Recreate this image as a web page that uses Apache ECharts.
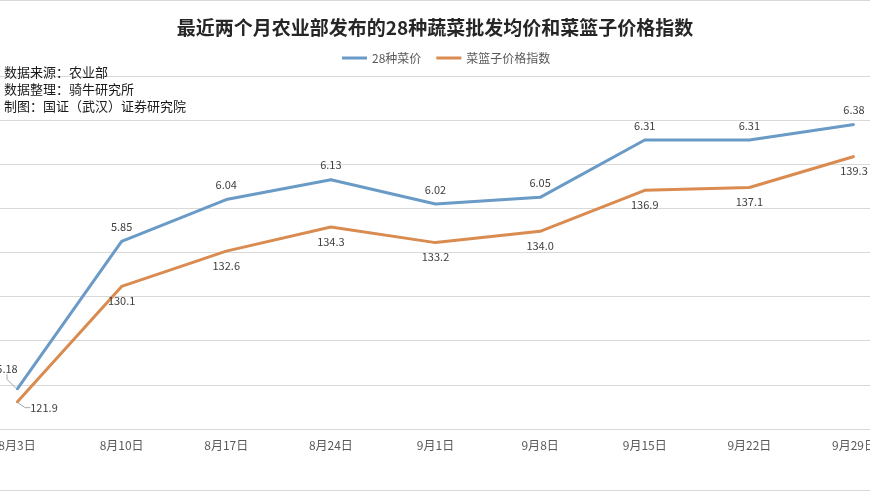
<!DOCTYPE html>
<html>
<head>
<meta charset="utf-8">
<script src="https://cdn.jsdelivr.net/npm/echarts@6/dist/echarts.min.js"></script>
<style>
html,body{margin:0;padding:0;background:#fff;}
#main{width:870px;height:492px;}
</style>
</head>
<body>
<div id="main"></div>
<script>
var categories = ['8月3日','8月10日','8月17日','8月24日','9月1日','9月8日','9月15日','9月22日','9月29日'];
var vegPrice = [5.18, 5.85, 6.04, 6.13, 6.02, 6.05, 6.31, 6.31, 6.38];
var basketIndex = [121.9, 130.1, 132.6, 134.3, 133.2, 134.0, 136.9, 137.1, 139.3];
var seriesNames = ['28种菜价', '菜篮子价格指数'];
var titleText = '最近两个月农业部发布的28种蔬菜批发均价和菜篮子价格指数';
var sourceLines = ['数据来源：农业部', '数据整理：骑牛研究所', '制图：国证（武汉）证券研究院'];

var chart = echarts.init(document.getElementById('main'), null, {renderer:'canvas'});
var FONT = '"Noto Sans CJK SC", "Noto Sans", sans-serif';
var blue = '#6A9AC6', orange = '#D98B50';
var guide = {show: true, length2: 5, lineStyle: {color: '#a6a6a6', width: 1}};

function mkData(arr) {
  return arr.map(function (v, i) {
    if (i === 0) return {value: v, labelLine: guide};
    return v;
  });
}

var option = {
  backgroundColor: '#fff',
  animation: false,
  title: {
    text: titleText,
    left: 'center',
    top: 13,
    textStyle: {fontFamily: FONT, fontSize: 19, fontWeight: 'bold', color: '#262626'}
  },
  legend: {
    top: 47,
    left: 337,
    itemWidth: 25,
    itemHeight: 3,
    itemGap: 15,
    icon: 'rect',
    textStyle: {fontFamily: FONT, fontSize: 12, color: '#595959'},
    data: seriesNames
  },
  graphic: [
    {type: 'line', shape: {x1: 0, y1: 0.5, x2: 870, y2: 0.5}, style: {stroke: '#d9d9d9', lineWidth: 1}},
    {type: 'line', shape: {x1: 0, y1: 490.5, x2: 870, y2: 490.5}, style: {stroke: '#d9d9d9', lineWidth: 1}},
    {type: 'text', left: 4, top: 64, z: 10, style: {text: sourceLines.join('\n'), fill: '#1a1a1a', font: '13px ' + FONT, lineHeight: 17}}
  ],
  grid: [
    {left: 17, right: 16, top: 76, bottom: 63, containLabel: false, outerBoundsMode: 'none'},
    {left: 0, right: 0, top: 76, bottom: 63, containLabel: false, outerBoundsMode: 'none'}
  ],
  xAxis: [
    {
      type: 'category',
      gridIndex: 0,
      data: categories,
      boundaryGap: false,
      axisLine: {show: false},
      axisTick: {show: false},
      axisLabel: {fontFamily: FONT, fontSize: 12, color: '#595959', margin: 10},
      splitLine: {show: false}
    },
    {
      type: 'value',
      gridIndex: 1,
      min: 0, max: 1,
      axisLine: {show: true, lineStyle: {color: '#d9d9d9'}},
      axisTick: {show: false}, axisLabel: {show: false}, splitLine: {show: false}
    }
  ],
  yAxis: [
    {
      type: 'value', gridIndex: 0, min: 5.0, max: 6.6, interval: 0.2,
      axisLine: {show: false}, axisTick: {show: false}, axisLabel: {show: false},
      splitLine: {show: false}
    },
    {
      type: 'value', gridIndex: 0, min: 120, max: 145, interval: 5,
      axisLine: {show: false}, axisTick: {show: false}, axisLabel: {show: false},
      splitLine: {show: false}
    },
    {
      type: 'value', gridIndex: 1, min: 5.0, max: 6.6, interval: 0.2,
      axisLine: {show: false}, axisTick: {show: false}, axisLabel: {show: false},
      splitLine: {show: true, lineStyle: {color: '#d9d9d9'}}
    }
  ],
  series: [
    {
      name: seriesNames[0],
      type: 'line',
      xAxisIndex: 0,
      yAxisIndex: 0,
      data: mkData(vegPrice),
      symbol: 'circle', symbolSize: 2, showSymbol: true,
      itemStyle: {color: blue},
      lineStyle: {color: blue, width: 3},
      label: {show: true, position: 'top', distance: 8, fontFamily: FONT, fontSize: 11, color: '#404040',
        formatter: function (p) { return p.value.toFixed(2); }},
      labelLayout: function (p) { return p.dataIndex === 0 ? {dx: -10, dy: -6} : {}; },
      z: 3
    },
    {
      name: seriesNames[1],
      type: 'line',
      xAxisIndex: 0,
      yAxisIndex: 1,
      data: mkData(basketIndex),
      symbol: 'circle', symbolSize: 2, showSymbol: true,
      itemStyle: {color: orange},
      lineStyle: {color: orange, width: 3},
      label: {show: true, position: 'bottom', distance: 8, fontFamily: FONT, fontSize: 11, color: '#404040',
        formatter: function (p) { return p.value.toFixed(1); }},
      labelLayout: function (p) { return p.dataIndex === 0 ? {dx: 27, dy: -9} : {}; },
      z: 2
    }
  ]
};
chart.setOption(option);
</script>
</body>
</html>
